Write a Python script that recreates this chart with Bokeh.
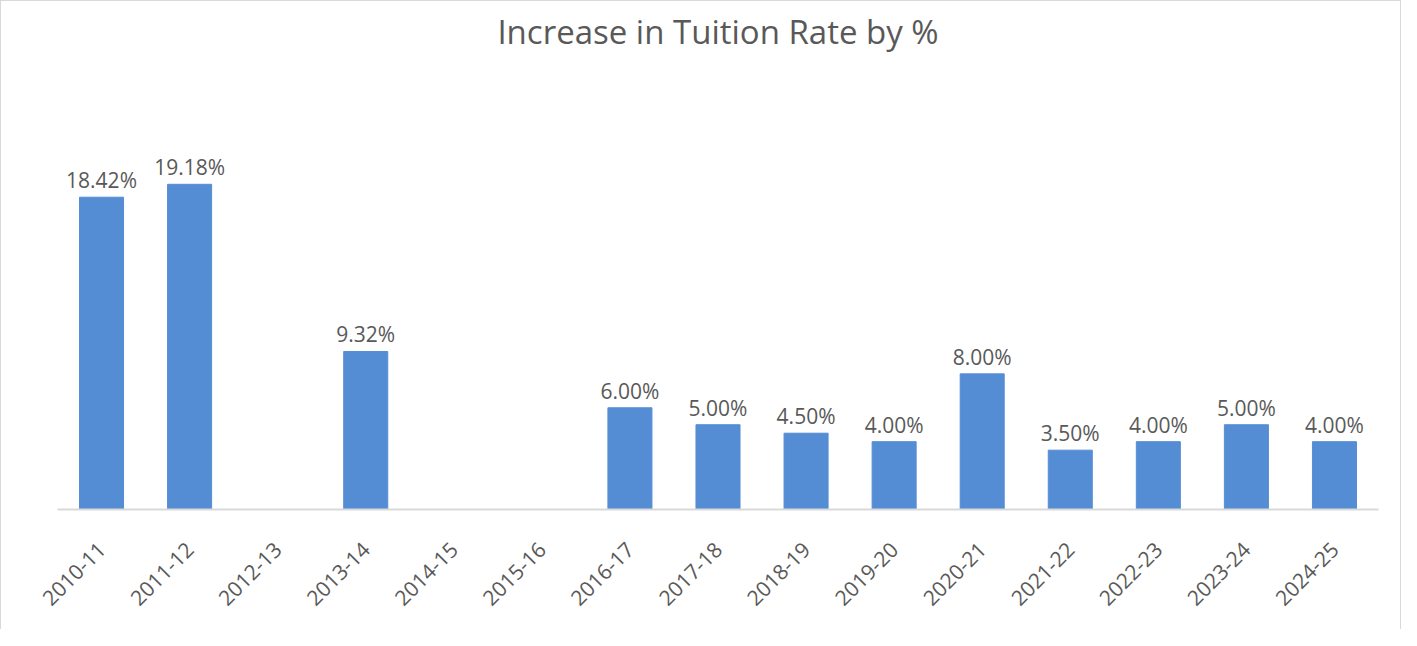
import math
from bokeh.plotting import figure
from bokeh.models import ColumnDataSource, FactorRange, Range1d
from bokeh.core.properties import value
from bokeh.embed import file_html
from bokeh.resources import INLINE

years = ["2010-11", "2011-12", "2012-13", "2013-14", "2014-15", "2015-16", "2016-17",
         "2017-18", "2018-19", "2019-20", "2020-21", "2021-22", "2022-23", "2023-24", "2024-25"]
increase = [18.42, 19.18, None, 9.32, None, None, 6.00, 5.00, 4.50, 4.00, 8.00, 3.50, 4.00, 5.00, 4.00]

bar_color = "#558DD5"
text_color = "#595959"
font = "Open Sans"

tops = [float("nan") if v is None else v for v in increase]
src = ColumnDataSource(dict(x=years, top=tops))
lx = [y for y, v in zip(years, increase) if v is not None]
lv = [v for v in increase if v is not None]
lsrc = ColumnDataSource(dict(x=lx, y=lv, t=[f"{v:.2f}%" for v in lv]))

p = figure(x_range=FactorRange(*years, range_padding=0), y_range=Range1d(0, 26.6),
           width=1401, height=629, output_backend="svg", toolbar_location=None,
           title="Increase in Tuition Rate by %",
           min_border_left=56, min_border_right=24, min_border_bottom=121, min_border_top=0)
p.styles = {"border-top": "1px solid #d9d9d9", "border-left": "1px solid #d9d9d9",
            "border-right": "1px solid #d9d9d9"}

p.title.align = "center"
p.title.text_font = font
p.title.text_font_size = "33px"
p.title.text_font_style = "normal"
p.title.text_color = text_color
p.title.standoff = 10

p.vbar(x="x", top="top", width=0.5, source=src, color=bar_color)
p.text(x="x", y="y", text="t", source=lsrc, text_align="center", text_baseline="bottom",
       y_offset=-3, text_font=value(font), text_font_size="21px", text_color=text_color)

p.yaxis.visible = False
p.xgrid.visible = False
p.ygrid.visible = False
p.outline_line_color = None
p.xaxis.axis_line_color = "#d9d9d9"
p.xaxis.axis_line_width = 2
p.xaxis.major_tick_line_color = None
p.xaxis.minor_tick_line_color = None
p.xaxis.major_label_orientation = math.pi / 4
p.xaxis.major_label_text_font = font
p.xaxis.major_label_text_font_size = "21px"
p.xaxis.major_label_text_color = text_color
p.xaxis.major_label_standoff = 30

open("out.html", "w").write(file_html(p, INLINE))
